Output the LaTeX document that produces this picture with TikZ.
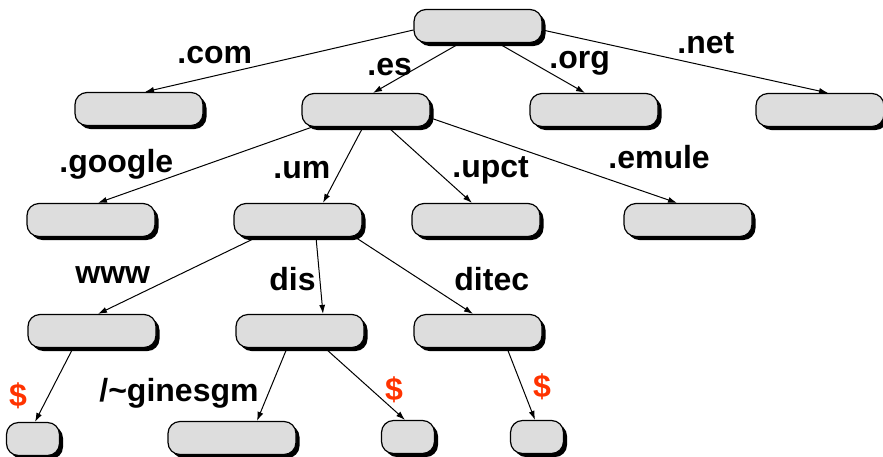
\documentclass[tikz,border=0pt]{standalone}
\usepackage{fontspec}
\setmainfont{Liberation Sans}
\usetikzlibrary{arrows.meta,shadows}
\tikzset{>={Latex[width=3pt,length=4.5pt]}}
\definecolor{boxgray}{RGB}{221,221,221}
\definecolor{dollarred}{RGB}{255,51,0}

\begin{document}
\begin{tikzpicture}[x=0.5pt,y=-0.5pt,
    dom/.style={draw, fill=boxgray, line width=0.6pt, rounded corners=6pt,
      minimum width=64pt, minimum height=16.5pt, inner sep=0pt,
      drop shadow={shadow xshift=1.75pt, shadow yshift=-1.75pt, opacity=1, fill=black}},
    leaf/.style={dom, minimum width=26.5pt},
    lbl/.style={font=\fontsize{16}{19}\selectfont\bfseries, inner sep=0pt, anchor=base west},
    money/.style={lbl, text=dollarred, anchor=center},
    link/.style={->, line width=0.5pt}]

  \useasboundingbox (0,0) rectangle (883,456);

  %% levels of the tree
  \node[dom] (root) at (478, 26) {};

  \node[dom] (com) at (139, 109) {};
  \node[dom] (es)  at (366, 110) {};
  \node[dom] (org) at (594, 110) {};
  \node[dom] (net) at (820, 110) {};

  \node[dom] (google) at (91, 220) {};
  \node[dom] (um)     at (298, 220) {};
  \node[dom] (upct)   at (476, 220) {};
  \node[dom] (emule)  at (688, 220) {};

  \node[dom] (www)   at (92, 331) {};
  \node[dom] (dis)   at (300, 331) {};
  \node[dom] (ditec) at (478, 331) {};

  \node[leaf] (wwwhome)  at (33, 439) {};
  \node[dom]  (ginesgm)  at (232, 438) {};
  \node[leaf] (dishome)  at (408, 437) {};
  \node[leaf] (ditechome) at (537, 437) {};

  %% top level domains
  \draw[link] ([yshift=-2pt]root.west) -- ([xshift=3pt]com.north);
  \draw[link] ([xshift=-9pt]root.south) -- ([xshift=3.5pt]es.north);
  \draw[link] ([xshift=10pt]root.south) -- ([xshift=-4.5pt]org.north);
  \draw[link] ([yshift=-2pt]root.east) -- ([xshift=4pt]net.north);

  \node[lbl] (lcom) at (177, 63) {.com};
  \node[lbl] (les)  at (367, 75) {.es};
  \node[lbl] (lorg) at (549, 68) {.org};
  \node[lbl] (lnet) at (677, 53) {.net};

  %% under .es
  \draw[link] ([xshift=-27pt]es.south) -- ([xshift=3.5pt]google.north);
  \draw[link] ([xshift=-1.5pt]es.south) -- ([xshift=12.5pt]um.north);
  \draw[link] ([xshift=11pt]es.south) -- ([xshift=-2pt]upct.north);
  \draw[link] ([yshift=-4pt]es.east) -- ([xshift=-5.5pt]emule.north);

  \node[lbl] (lgoogle) at (59, 172) {.google};
  \node[lbl] (lum)     at (273, 178) {.um};
  \node[lbl] (lupct)   at (452, 177) {.upct};
  \node[lbl] (lemule)  at (608, 168) {.emule};

  %% under .um
  \draw[link] ([xshift=-20.5pt]um.south) -- ([xshift=3pt]www.north);
  \draw[link] ([xshift=9pt]um.south) -- ([xshift=11.5pt]dis.north);
  \draw[link] ([xshift=28.5pt]um.south) -- ([xshift=-2.5pt]ditec.north);

  \node[lbl] (lwww)   at (75, 283) {www};
  \node[lbl] (ldis)   at (269, 290) {dis};
  \node[lbl] (lditec) at (454, 290) {ditec};

  %% home directories
  \draw[link] ([xshift=-9.5pt]www.south) -- ([xshift=1pt]wwwhome.north);
  \draw[link] ([xshift=-6.5pt]dis.south) -- ([xshift=12.5pt]ginesgm.north);
  \draw[link] ([xshift=12.5pt]dis.south) -- ([xshift=-1.5pt]dishome.north);
  \draw[link] ([xshift=14.5pt]ditec.south) -- ([xshift=-1pt]ditechome.north);

  \node[money] (dwww)   at (18, 396) {\$};
  \node[lbl]   (lgines) at (99, 401) {/\textasciitilde ginesgm};
  \node[money] (ddis)   at (394, 390) {\$};
  \node[money] (dditec) at (542, 387) {\$};

\end{tikzpicture}
\end{document}
